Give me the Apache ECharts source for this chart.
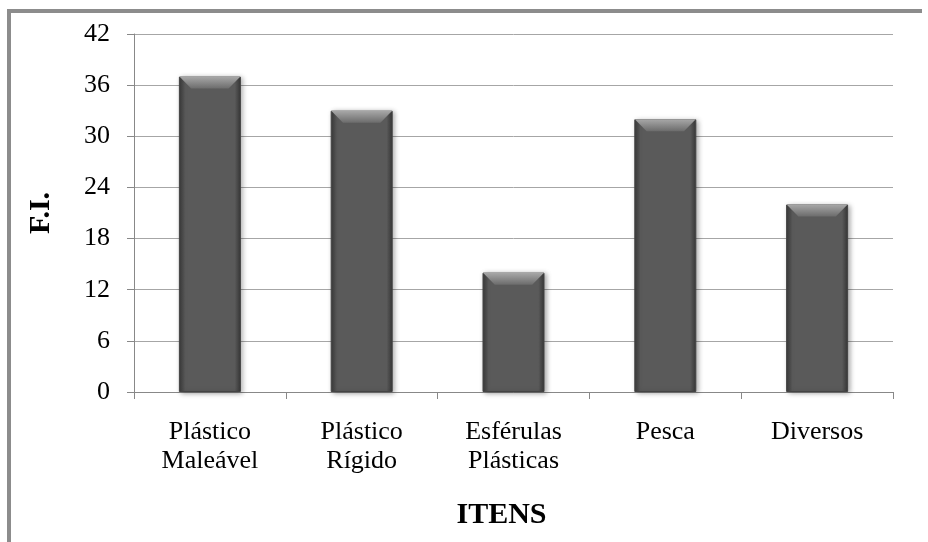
<!DOCTYPE html>
<html>
<head>
<meta charset="utf-8">
<script src="https://cdn.jsdelivr.net/npm/echarts@6/dist/echarts.min.js"></script>
<style>
  html, body { margin: 0; padding: 0; background: #fff; }
  #chart { width: 928px; height: 542px; }
</style>
</head>
<body>
<div id="chart"></div>
<script>
// Frequency index per item type
const categories = ['Plástico\nMaleável', 'Plástico\nRígido', 'Esférulas\nPlásticas', 'Pesca', 'Diversos'];
const values = [37, 33, 14, 32, 22];
const yTicks = [0, 6, 12, 18, 24, 30, 36, 42];

const serif = '"Liberation Serif", "Times New Roman", serif';
const chart = echarts.init(document.getElementById('chart'), null, { renderer: 'canvas' });

const barBody = new echarts.graphic.LinearGradient(0, 0, 1, 0, [
  { offset: 0, color: '#3a3a3a' },
  { offset: 0.1, color: '#5a5a5a' },
  { offset: 0.9, color: '#5a5a5a' },
  { offset: 1, color: '#363636' }
]);
const bevel = new echarts.graphic.LinearGradient(0, 0, 0, 1, [
  { offset: 0, color: '#a8a8a8' },
  { offset: 1, color: '#6c6c6c' }
]);

chart.setOption({
  animation: false,
  backgroundColor: '#fff',
  grid: { left: 134, right: 35, top: 34, bottom: 150, containLabel: false },
  xAxis: {
    type: 'category',
    data: categories,
    name: 'ITENS',
    nameLocation: 'middle',
    nameGap: 108,
    nameTextStyle: { fontFamily: serif, fontSize: 30, fontWeight: 'bold', color: '#000', padding: [0, 24, 0, 0] },
    axisLine: { lineStyle: { color: '#888', width: 1 } },
    axisTick: { show: true, length: 7, lineStyle: { color: '#888' } },
    axisLabel: { fontFamily: serif, fontSize: 26, color: '#000', margin: 26, lineHeight: 29, interval: 0 }
  },
  yAxis: {
    type: 'value',
    min: yTicks[0],
    max: yTicks[yTicks.length - 1],
    interval: yTicks[1] - yTicks[0],
    name: 'F.I.',
    nameLocation: 'middle',
    nameGap: 78,
    nameTextStyle: { fontFamily: serif, fontSize: 30, fontWeight: 'bold', color: '#000' },
    axisLine: { show: true, lineStyle: { color: '#888', width: 1 } },
    axisTick: { show: true, length: 7, lineStyle: { color: '#888' } },
    axisLabel: { fontFamily: serif, fontSize: 26, color: '#000', margin: 24 },
    splitLine: { lineStyle: { color: '#a6a6a6', width: 1 } }
  },
  series: [
    {
      type: 'bar',
      data: values,
      barWidth: 62,
      itemStyle: {
        color: barBody,
        borderColor: '#444',
        borderWidth: 1,
        shadowColor: 'rgba(0,0,0,0.35)',
        shadowBlur: 5,
        shadowOffsetX: 2,
        shadowOffsetY: 1
      },
      z: 2
    },
    {
      // bevelled highlight across each bar's top edge
      type: 'pictorialBar',
      data: values,
      symbol: 'path://M0,0 L62,0 L50,12 L12,12 Z',
      symbolSize: [61, 12],
      symbolPosition: 'end',
      itemStyle: { color: bevel },
      silent: true,
      z: 3
    }
  ],
  graphic: [
    { type: 'line', shape: { x1: 9, y1: 11, x2: 9, y2: 542 }, style: { stroke: '#8c8c8c', lineWidth: 4 } },
    { type: 'line', shape: { x1: 7, y1: 11, x2: 922, y2: 11 }, style: { stroke: '#8c8c8c', lineWidth: 4 } }
  ]
});
</script>
</body>
</html>
